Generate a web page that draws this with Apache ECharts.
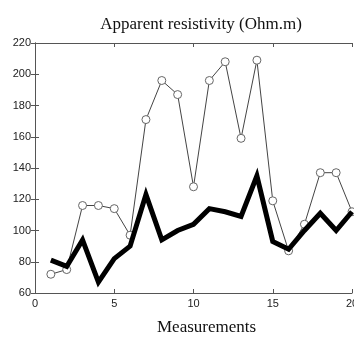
<!DOCTYPE html>
<html>
<head>
<meta charset="utf-8">
<script src="https://cdn.jsdelivr.net/npm/echarts@6/dist/echarts.min.js"></script>
<style>
  html, body { margin: 0; padding: 0; background: #fff; }
  #chart { width: 354px; height: 337px; }
</style>
</head>
<body>
<div id="chart"></div>
<script>
// Measurement index along the profile
const measurements = [1, 2, 3, 4, 5, 6, 7, 8, 9, 10, 11, 12, 13, 14, 15, 16, 17, 18, 19, 20];
// Observed apparent resistivity (thin line with open circles)
const observed = [72, 75, 116, 116, 114, 97, 171, 196, 187, 128, 196, 208, 159, 209, 119, 87, 104, 137, 137, 112];
// Calculated apparent resistivity (thick line)
const calculated = [81, 77, 94, 67, 82, 90, 123, 94, 100, 104, 114, 112, 109, 135, 93, 88, 100, 111, 100, 112];
// Axis ticks
const xTicks = [0, 5, 10, 15, 20];
const yTicks = [60, 80, 100, 120, 140, 160, 180, 200, 220];

const chart = echarts.init(document.getElementById('chart'), null, { renderer: 'canvas' });

const axisColor = '#555';
const labelFont = { color: '#222', fontSize: 11, fontFamily: 'Liberation Sans, Arial, sans-serif' };

const baseX = {
  type: 'value', min: xTicks[0], max: xTicks[xTicks.length - 1], interval: 5,
  axisLine: { show: true, lineStyle: { color: axisColor, width: 1 } },
  axisTick: { show: true, inside: true, length: 4, lineStyle: { color: axisColor } },
  splitLine: { show: false }
};
const baseY = {
  type: 'value', min: yTicks[0], max: yTicks[yTicks.length - 1], interval: 20,
  axisLine: { show: true, lineStyle: { color: axisColor, width: 1 } },
  axisTick: { show: true, inside: true, length: 4, lineStyle: { color: axisColor } },
  splitLine: { show: false }
};

chart.setOption({
  animation: false,
  backgroundColor: '#fff',
  title: {
    text: 'Apparent resistivity (Ohm.m)',
    left: 196, top: 11, textAlign: 'center',
    textStyle: { fontFamily: 'Liberation Serif, Times New Roman, serif', fontWeight: 'normal', fontSize: 17, color: '#111' }
  },
  graphic: [{
    type: 'text', left: 157, top: 319,
    style: { text: 'Measurements', font: '17px "Liberation Serif", serif', fill: '#111' }
  }],
  grid: { left: 35, top: 43, width: 317, height: 250, containLabel: false, outerBoundsMode: 'none' },
  xAxis: [
    Object.assign({}, baseX, { position: 'bottom', axisLabel: Object.assign({ margin: 5 }, labelFont) }),
    Object.assign({}, baseX, { position: 'top', axisLabel: { show: false } })
  ],
  yAxis: [
    Object.assign({}, baseY, { position: 'left', axisLabel: Object.assign({ margin: 4 }, labelFont) }),
    Object.assign({}, baseY, { position: 'right', axisLabel: { show: false } })
  ],
  series: [
    {
      type: 'line',
      data: measurements.map((m, i) => [m, observed[i]]),
      symbol: 'circle', symbolSize: 8,
      itemStyle: { color: '#fff', borderColor: '#666', borderWidth: 1 },
      lineStyle: { color: '#444', width: 1 },
      z: 2
    },
    {
      type: 'line',
      data: measurements.map((m, i) => [m, calculated[i]]),
      symbol: 'none',
      lineStyle: { color: '#000', width: 5, join: 'miter', cap: 'butt' },
      z: 3
    }
  ]
});
</script>
</body>
</html>
